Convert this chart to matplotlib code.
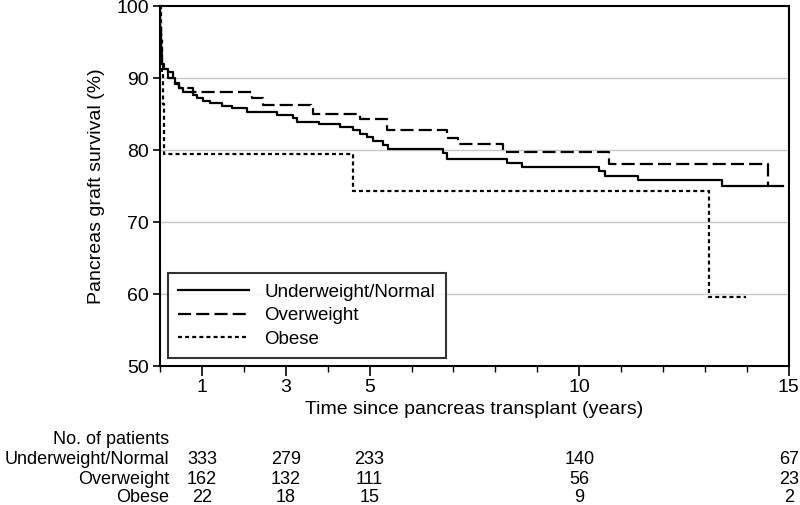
import matplotlib.pyplot as plt
from matplotlib.ticker import MultipleLocator

plt.rcParams['font.family'] = ['Liberation Sans', 'DejaVu Sans']

# Kaplan-Meier step data (time in years, survival in %)
t_normal = [0, 0.01, 0.02, 0.03, 0.05, 0.08, 0.2, 0.3, 0.36, 0.45, 0.55, 0.79, 0.88,
            1.03, 1.19, 1.48, 1.72, 2.08, 2.8, 3.17, 3.27, 3.8, 4.3, 4.6, 4.77, 4.93,
            5.08, 5.32, 5.44, 6.75, 6.85, 8.28, 8.64, 10.48, 10.62, 11.4, 13.41, 14.85]
s_normal = [100, 97, 95, 93, 92, 91.3, 90.8, 90.0, 89.3, 88.6, 88.1, 87.6, 87.2,
            86.8, 86.5, 86.1, 85.8, 85.3, 84.9, 84.4, 83.9, 83.6, 83.2, 82.8, 82.3, 81.8,
            81.2, 80.7, 80.2, 79.6, 78.75, 78.2, 77.7, 77.1, 76.4, 75.8, 75.0, 75.0]

t_over = [0, 0.01, 0.03, 0.05, 0.1, 0.2, 0.35, 0.45, 0.79, 2.2, 2.45, 3.6, 3.65,
          4.77, 5.42, 6.85, 7.1, 8.18, 10.7, 14.5, 14.52]
s_over = [100, 97, 94, 92, 91, 90, 89.2, 88.6, 88.1, 87.3, 86.2, 85.7, 85.0,
          84.3, 82.8, 81.7, 80.8, 79.7, 78.05, 75.1, 75.1]

t_obese = [0, 0.02, 0.04, 0.06, 0.1, 4.6, 13.1, 13.98]
s_obese = [100, 95.5, 90.9, 86.4, 79.4, 74.35, 59.6, 59.6]

risk_times = [1, 3, 5, 10, 15]
groups = ['Underweight/Normal', 'Overweight', 'Obese']
n_normal = [333, 279, 233, 140, 67]
n_over = [162, 132, 111, 56, 23]
n_obese = [22, 18, 15, 9, 2]

fig = plt.figure(figsize=(8, 5.05), dpi=100)
ax = fig.add_axes([0.2, 0.275, 0.786, 0.713])

lw = 1.6
ax.step(t_normal, s_normal, where='post', color='black', lw=lw, label=groups[0])
ax.step(t_over, s_over, where='post', color='black', lw=lw, dashes=(5.9, 2.3), label=groups[1])
ax.step(t_obese, s_obese, where='post', color='black', lw=lw, dashes=(1.8, 1.4), label=groups[2])

ax.set_xlim(0, 15)
ax.set_ylim(50, 100)
ax.set_yticks([50, 60, 70, 80, 90, 100])
ax.set_xticks(risk_times)
ax.xaxis.set_minor_locator(MultipleLocator(1))
for y in [60, 70, 80, 90]:
    ax.axhline(y, color='#c8c8c8', lw=1, zorder=0)
for sp in ax.spines.values():
    sp.set_linewidth(1.5)
ax.tick_params(axis='y', length=5, width=1.2, labelsize=14, pad=3)
ax.tick_params(axis='x', which='major', length=7, width=1.2, labelsize=14, pad=2)
ax.tick_params(axis='x', which='minor', length=4, width=1.0)
ax.set_ylabel('Pancreas graft survival (%)', fontsize=14, labelpad=8)
ax.set_xlabel('Time since pancreas transplant (years)', fontsize=14, labelpad=4)

leg = ax.legend(loc='lower left', bbox_to_anchor=(0.0, 0.0), fontsize=13.5, frameon=True,
                fancybox=False, edgecolor='black', handlelength=3.8, handletextpad=0.8,
                labelspacing=0.35, borderpad=0.55, borderaxespad=0.42)
leg.get_frame().set_linewidth(1.5)

# number at risk table
fs = 13
fig.text(169 / 800, 1 - 439 / 505, 'No. of patients', ha='right', va='center', fontsize=fs)
rows_y = [460, 479, 498]
for name, counts, py in zip(groups, [n_normal, n_over, n_obese], rows_y):
    fig.text(169 / 800, 1 - py / 505, name, ha='right', va='center', fontsize=fs)
    for t, n in zip(risk_times, counts):
        x_fig = fig.transFigure.inverted().transform(ax.transData.transform((t, 50)))[0]
        fig.text(x_fig, 1 - py / 505, str(n), ha='center', va='center', fontsize=fs)

fig.savefig('out.png', dpi=100)
